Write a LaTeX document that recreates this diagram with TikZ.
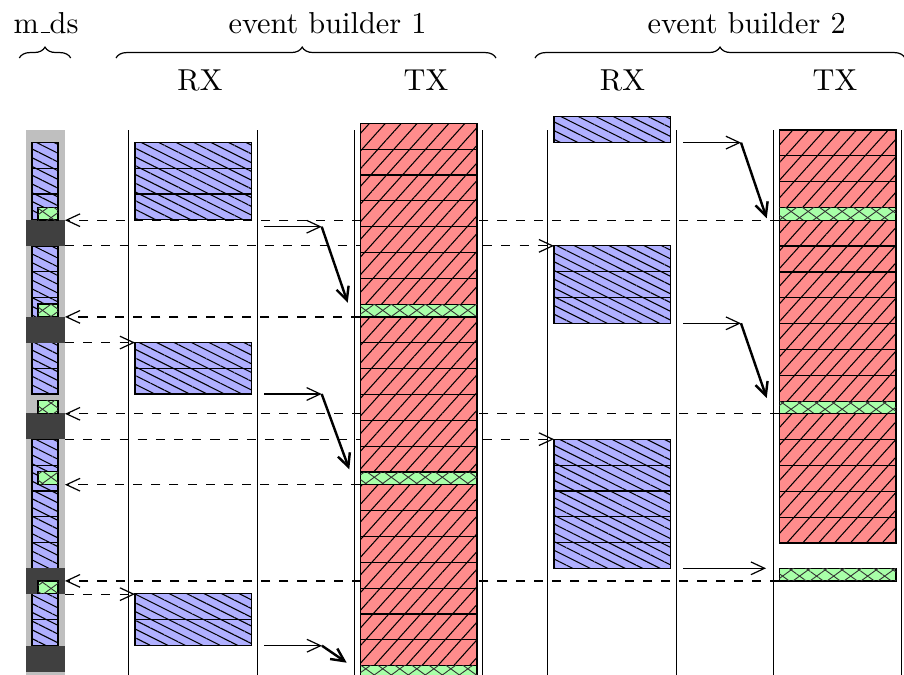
\documentclass[tikz,border=0pt]{standalone}
\usetikzlibrary{arrows.meta,patterns.meta,decorations.pathreplacing}
\pgfdeclarelayer{behind}
\pgfsetlayers{behind,main}

\definecolor{rxfill}{RGB}{176,176,255}
\definecolor{txfill}{RGB}{255,140,140}
\definecolor{ackfill}{RGB}{168,255,168}
\definecolor{bgfill}{RGB}{191,191,191}
\definecolor{busyfill}{RGB}{64,64,64}

% one drawing unit = one pixel of the layout grid
\def\px{0.33pt}
\def\cellh{25.86}
\def\ackh{12.6}
% short rule-style underscore
\newcommand{\lowbar}{\leavevmode\kern.06em\vbox{\hrule width.3em}}

\tikzset{
  box/.style={inner sep=0pt, outer sep=0pt, anchor=north west},
  rxpat/.style={postaction={pattern={Lines[angle=-26.6,distance=2.58pt,line width=0.35pt]}, pattern color=black}},
  txpat/.style={postaction={pattern={Lines[angle=48,distance=3.9pt,line width=0.35pt]}, pattern color=black}},
  ackpat/.style={postaction={pattern={Lines[angle=36,distance=3.3pt,line width=0.3pt]}, pattern color=black!80},
                 postaction={pattern={Lines[angle=-36,distance=3.3pt,line width=0.3pt]}, pattern color=black!80}},
  rxcell/.style={box, draw, line width=0.4pt, fill=rxfill, rxpat,
                 minimum width={116.7*\px}, minimum height={\cellh*\px}},
  txcell/.style={box, draw, line width=0.4pt, fill=txfill, txpat,
                 minimum width={116.7*\px}, minimum height={\cellh*\px}},
  ackcell/.style={box, draw, line width=0.4pt, fill=ackfill, ackpat,
                 minimum width={116.7*\px}, minimum height={\ackh*\px}},
  mdcell/.style={box, draw, line width=0.4pt, fill=rxfill, rxpat,
                 minimum width={26*\px}, minimum height={\cellh*\px}},
  mdack/.style={box, draw, line width=0.4pt, fill=ackfill, ackpat,
                 minimum width={20*\px}, minimum height={12.7*\px}},
  busy/.style={box, fill=busyfill, minimum width={39*\px}, minimum height={\cellh*\px}},
  colline/.style={line width=0.4pt},
  msg/.style={dashed, line width=0.4pt, -{Straight Barb[length=4.5pt,width=4.2pt]}},
  hop/.style={line width=0.4pt, -{Straight Barb[length=4.5pt,width=4.2pt]}},
  push/.style={line width=0.8pt, -{Straight Barb[length=4.3pt,width=4.2pt]}},
  brc/.style={line width=0.4pt, decorate, decoration={brace, amplitude=3.6pt}},
  lbl/.style={anchor=base, inner sep=0pt}
}

\begin{document}
\begin{tikzpicture}[x=\px, y=-\px]
\useasboundingbox (0,0) rectangle (904,675);

% headings
\node[lbl] (tmds) at (46,33) {m\lowbar ds};
\node[lbl] (teb1) at (327.5,33) {event builder 1};
\node[lbl] (teb2) at (746.7,33) {event builder 2};
\node[lbl] (trx1) at (200,90.7) {RX};
\node[lbl] (ttx1) at (426,90.7) {TX};
\node[lbl] (trx2) at (622.5,90.7) {RX};
\node[lbl] (ttx2) at (835,90.7) {TX};

% braces
\coordinate (bm0) at (19.3,58);  \coordinate (bm1) at (70.7,58);
\coordinate (be10) at (116,58);  \coordinate (be11) at (496,58);
\coordinate (be20) at (535,58);  \coordinate (be21) at (905,58);
\draw[brc] (bm0) -- (bm1);
\draw[brc, decoration={aspect=0.49}] (be10) -- (be11);
\draw[brc] (be20) -- (be21);

% m_ds column background and the column rules
\node[box, fill=bgfill, minimum width={39*\px}, minimum height={545*\px}] (mds) at (26,130) {};
\foreach \cx in {128.7,257.3,354.3,482.7,547.7,676.7,773.3,901.7}
  \draw[colline] (\cx,130) -- (\cx,675);

% m_ds: data cells
\foreach \yy [count=\k] in {142.3,168.16,194.02,245.9,271.76,297.62,342.3,368.16,
                             439.3,465.16,491.02,516.88,542.74,593.7,619.56}
  \node[mdcell] (mb\k) at (32,\yy) {};
% m_ds: busy periods
\node[busy] (md1) at (26,220) {};
\node[busy] (md2) at (26,316.7) {};
\node[busy] (md3) at (26,413.3) {};
\node[busy] (md4) at (26,568.3) {};
\node[busy] (md5) at (26,645.7) {};
% m_ds: acknowledgements
\node[mdack] (mg1) at (38,207.3) {};
\node[mdack] (mg2) at (38,304) {};
\node[mdack] (mg3) at (38,400.7) {};
\node[mdack] (mg4) at (38,471.7) {};
\node[mdack] (mg5) at (38,581) {};

% event builder 1, RX
\foreach \i in {0,1,2} \node[rxcell] (ra\i) at (135,{142.3+\i*\cellh}) {};
\foreach \i in {0,1}   \node[rxcell] (rb\i) at (135,{342.3+\i*\cellh}) {};
\foreach \i in {0,1}   \node[rxcell] (rc\i) at (135,{593.7+\i*\cellh}) {};

% event builder 1, TX
\foreach \i in {0,...,6} \node[txcell] (ta\i) at (360.3,{123.3+\i*\cellh}) {};
\node[ackcell] (tg1) at (360.3,304.3) {};
\foreach \i in {0,...,5} \node[txcell] (tb\i) at (360.3,{316.9+\i*\cellh}) {};
\node[ackcell] (tg2) at (360.3,472.1) {};
\foreach \i in {0,...,6} \node[txcell] (tc\i) at (360.3,{484.7+\i*\cellh}) {};
\node[ackcell] (tg3) at (360.3,665.7) {};

% event builder 2, RX
\node[rxcell] (sa0) at (554,116.7) {};
\foreach \i in {0,1,2}   \node[rxcell] (sb\i) at (554,{245.7+\i*\cellh}) {};
\foreach \i in {0,...,4} \node[rxcell] (sc\i) at (554,{439.3+\i*\cellh}) {};

% event builder 2, TX
\foreach \i in {0,1,2}   \node[txcell] (ua\i) at (779.3,{130+\i*\cellh}) {};
\node[ackcell] (ug1) at (779.3,207.6) {};
\foreach \i in {0,...,6} \node[txcell] (ub\i) at (779.3,{220.2+\i*\cellh}) {};
\node[ackcell] (ug2) at (779.3,401.2) {};
\foreach \i in {0,...,4} \node[txcell] (uc\i) at (779.3,{413.8+\i*\cellh}) {};
\node[ackcell] (ug3) at (779.3,568.3) {};

% messages between m_ds and the event builders (behind the cells)
\begin{pgfonlayer}{behind}
  \draw[msg] (ug1.south west) -- (ug1.south west -| md1.east);
  \draw[msg] (md1.south east) -- (md1.south east -| sb0.west);
  \draw[msg] (tg1.south west) -- (tg1.south west -| md2.east);
  \draw[msg] (md2.south east) -- (md2.south east -| rb0.west);
  \draw[msg] (ug2.south west) -- (ug2.south west -| md3.east);
  \draw[msg] (md3.south east) -- (md3.south east -| sc0.west);
  \draw[msg] (tg2.south west) -- (tg2.south west -| mds.east);
  \draw[msg] (ug3.south west) -- (ug3.south west -| mds.east);
  \draw[msg] (md4.south east) -- (md4.south east -| rc0.west);
\end{pgfonlayer}

% RX -> TX hand-over
\coordinate (a1s) at (264,226.7);   \coordinate (a1k) at (321.7,226.7); \coordinate (a1e) at (347.7,302.7);
\coordinate (a2s) at (264,394);     \coordinate (a2k) at (321.7,394);   \coordinate (a2e) at (349.3,469.3);
\coordinate (a3s) at (264,645.7);   \coordinate (a3k) at (322,645.7);   \coordinate (a3e) at (346.7,662.7);
\coordinate (b1s) at (683.3,142.6); \coordinate (b1k) at (741,142.6);   \coordinate (b1e) at (766.7,218.3);
\coordinate (b2s) at (683.3,323.3); \coordinate (b2k) at (741,323.3);   \coordinate (b2e) at (766.7,398);
\coordinate (b3s) at (683.3,568.3); \coordinate (b3e) at (766,568.3);
\draw[hop] (a1s) -- (a1k);  \draw[push] (a1k) -- (a1e);
\draw[hop] (a2s) -- (a2k);  \draw[push] (a2k) -- (a2e);
\draw[hop] (a3s) -- (a3k);  \draw[push] (a3k) -- (a3e);
\draw[hop] (b1s) -- (b1k);  \draw[push] (b1k) -- (b1e);
\draw[hop] (b2s) -- (b2k);  \draw[push] (b2k) -- (b2e);
\draw[hop] (b3s) -- (b3e);
\end{tikzpicture}
\end{document}
